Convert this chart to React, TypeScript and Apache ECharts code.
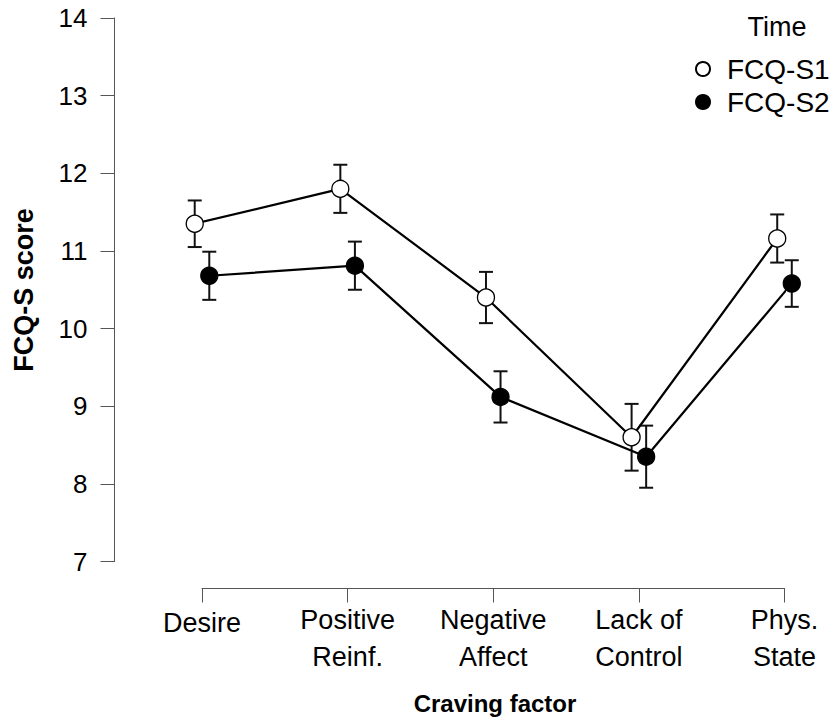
import React, { useEffect, useRef } from "react";
import * as echarts from "echarts";

const categories = ["Desire", "Positive\nReinf.", "Negative\nAffect", "Lack of\nControl", "Phys.\nState"];
const s1Mean = [11.35, 11.8, 10.4, 8.6, 11.16];
const s1Err = [0.3, 0.31, 0.33, 0.43, 0.31];
const s2Mean = [10.68, 10.81, 9.12, 8.35, 10.58];
const s2Err = [0.31, 0.31, 0.33, 0.4, 0.3];
const yTicks = { min: 7, max: 14, interval: 1 };
const dodge = 0.05;

const FONT = '"Liberation Sans", Arial, Helvetica, sans-serif';

export default function App() {
  const ref = useRef<HTMLDivElement>(null);
  useEffect(() => {
    if (!ref.current) return;
    const chart = echarts.init(ref.current, undefined, { renderer: "svg" });
    const pts = (mean: number[], off: number) => mean.map((v, i) => [i + 1 + off, v]);
    const errs = (mean: number[], err: number[], off: number) =>
      mean.map((v, i) => [i + 1 + off, v - err[i], v + err[i]]);

    const renderErr = (params: any, api: any) => {
      const x = api.value(0);
      const lo = api.coord([x, api.value(1)]);
      const hi = api.coord([x, api.value(2)]);
      const w = 7;
      const style = { stroke: "#111", lineWidth: 2 };
      return {
        type: "group",
        children: [
          { type: "line", shape: { x1: lo[0], y1: lo[1], x2: hi[0], y2: hi[1] }, style },
          { type: "line", shape: { x1: lo[0] - w, y1: lo[1], x2: lo[0] + w, y2: lo[1] }, style },
          { type: "line", shape: { x1: hi[0] - w, y1: hi[1], x2: hi[0] + w, y2: hi[1] }, style },
        ],
      };
    };

    chart.setOption({
      animation: false,
      backgroundColor: "#fff",
      grid: { left: 202, right: 50.5, top: 18, bottom: 160.5, containLabel: false },
      xAxis: {
        type: "value",
        min: 1,
        max: 5,
        interval: 1,
        offset: 27,
        splitLine: { show: false },
        axisLine: { show: true, lineStyle: { color: "#555", width: 1 } },
        axisTick: { show: true, length: 14, lineStyle: { color: "#555", width: 1 } },
        axisLabel: {
          margin: 13,
          fontSize: 27,
          lineHeight: 37,
          color: "#000",
          fontFamily: FONT,
          formatter: (v: number) => {
            const t = categories[Math.round(v) - 1] ?? "";
            return t.indexOf("\n") < 0 && t ? `{one|${t}}` : t;
          },
          rich: {
            one: { fontSize: 27, lineHeight: 37, fontFamily: FONT, color: "#000", padding: [6, 0, 0, 0] },
          },
        },
      },
      yAxis: {
        type: "value",
        min: yTicks.min,
        max: yTicks.max,
        interval: yTicks.interval,
        offset: 87.5,
        splitLine: { show: false },
        axisLine: { show: true, lineStyle: { color: "#555", width: 1 } },
        axisTick: { show: true, length: 14, lineStyle: { color: "#555", width: 1 } },
        axisLabel: { margin: 27, fontSize: 26, color: "#000", fontFamily: FONT },
      },
      legend: {
        orient: "vertical",
        left: 690,
        top: 50,
        padding: 5,
        itemGap: 5,
        itemWidth: 14,
        itemHeight: 14,
        icon: "circle",
        data: ["FCQ-S1", "FCQ-S2"],
        textStyle: { fontSize: 28, color: "#000", fontFamily: FONT, padding: [0, 0, 0, 12] },
      },
      graphic: [
        {
          type: "text",
          x: 777,
          y: 27,
          style: { text: "Time", font: `27px ${FONT}`, fill: "#000", textAlign: "center", textVerticalAlign: "middle" },
        },
        {
          type: "text",
          x: 495,
          y: 703,
          style: { text: "Craving factor", font: `bold 24px ${FONT}`, fill: "#000", textAlign: "center", textVerticalAlign: "middle" },
        },
        {
          type: "text",
          x: 24,
          y: 290,
          rotation: Math.PI / 2,
          style: { text: "FCQ-S score", font: `bold 27px ${FONT}`, fill: "#000", textAlign: "center", textVerticalAlign: "middle" },
        },
      ],
      series: [
        {
          type: "custom",
          name: "err1",
          renderItem: renderErr,
          data: errs(s1Mean, s1Err, -dodge),
          encode: { x: 0, y: [1, 2] },
          clip: false,
          z: 1,
          silent: true,
        },
        {
          type: "custom",
          name: "err2",
          renderItem: renderErr,
          data: errs(s2Mean, s2Err, dodge),
          encode: { x: 0, y: [1, 2] },
          clip: false,
          z: 1,
          silent: true,
        },
        {
          type: "line",
          name: "FCQ-S1",
          data: pts(s1Mean, -dodge),
          symbol: "circle",
          symbolSize: 17,
          clip: false,
          lineStyle: { color: "#000", width: 2.2 },
          itemStyle: { color: "#fff", borderColor: "#000", borderWidth: 1.3 },
          z: 3,
        },
        {
          type: "line",
          name: "FCQ-S2",
          data: pts(s2Mean, dodge),
          symbol: "circle",
          symbolSize: 17,
          clip: false,
          lineStyle: { color: "#000", width: 2.2 },
          itemStyle: { color: "#000", borderColor: "#000", borderWidth: 1.3 },
          z: 3,
        },
      ],
    });
    return () => chart.dispose();
  }, []);
  return (
    <div
      ref={ref}
      style={{ position: "fixed", left: 0, top: 0, width: 835, height: 722, background: "#fff" }}
    />
  );
}
